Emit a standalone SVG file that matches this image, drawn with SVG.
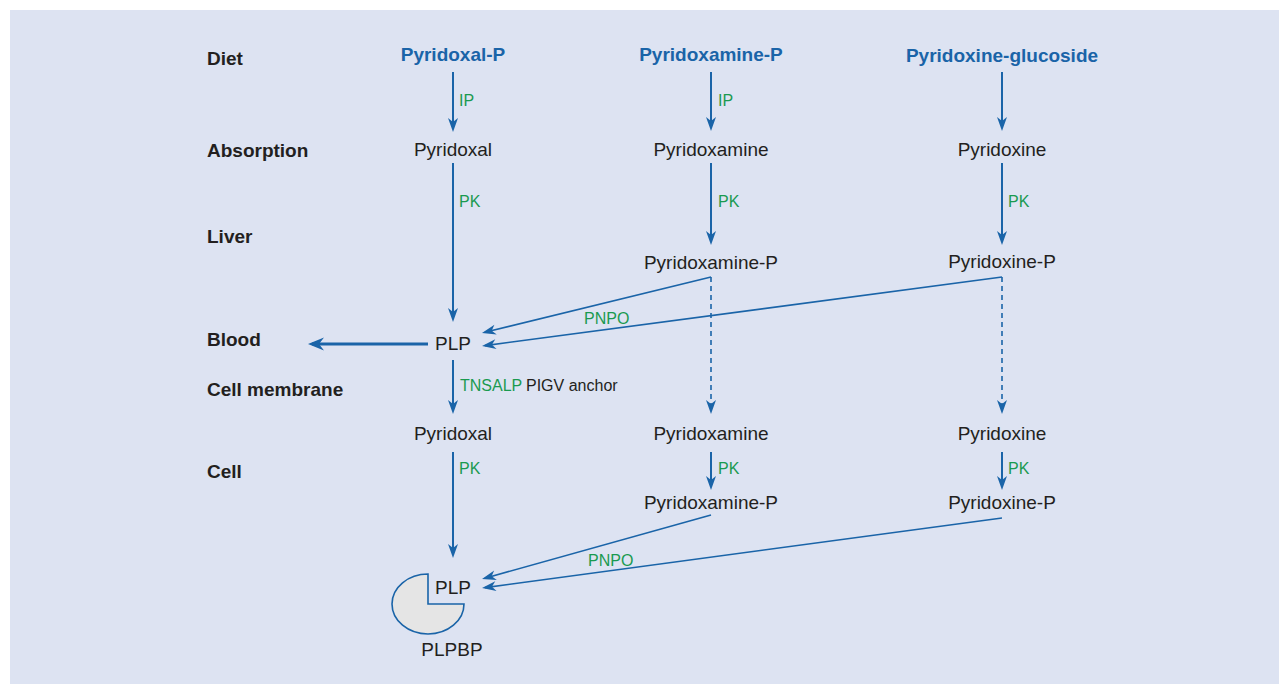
<svg xmlns="http://www.w3.org/2000/svg" width="1279" height="684" viewBox="0 0 1279 684">
  <style>
    .stage { font-family: "Liberation Sans", Arial, sans-serif; font-size: 19px; font-weight: bold; fill: #231f20; }
    .diet { font-family: "Liberation Sans", Arial, sans-serif; font-size: 19px; font-weight: bold; fill: #1a64a8; text-anchor: middle; }
    .mol { font-family: "Liberation Sans", Arial, sans-serif; font-size: 19px; fill: #231f20; text-anchor: middle; }
    .enz { font-family: "Liberation Sans", Arial, sans-serif; font-size: 16px; fill: #1a9a50; }
    .note { font-family: "Liberation Sans", Arial, sans-serif; font-size: 16px; fill: #231f20; }
    .arrow { stroke: #1a64a8; stroke-width: 2; fill: none; marker-end: url(#head); }
    .thin { stroke-width: 1.6; }
    .dash { stroke-dasharray: 5 4; }
  </style>
  <defs>
    <marker id="head" markerUnits="userSpaceOnUse" markerWidth="16" markerHeight="12" refX="-3" refY="0" orient="auto" overflow="visible">
      <path d="M-14,-5 L0,0 L-14,5 L-10,0 Z" fill="#1a64a8"/>
    </marker>
    <marker id="headBig" markerUnits="userSpaceOnUse" markerWidth="18" markerHeight="14" refX="-4" refY="0" orient="auto" overflow="visible">
      <path d="M-16,-6.5 L0,0 L-16,6.5 L-11,0 Z" fill="#1a64a8"/>
    </marker>
  </defs>

  <!-- panel background -->
  <rect x="10" y="10" width="1269" height="674" fill="#dde3f2"/>

  <!-- stage labels -->
  <g id="stages">
    <text class="stage" x="207" y="65">Diet</text>
    <text class="stage" x="207" y="157">Absorption</text>
    <text class="stage" x="207" y="243">Liver</text>
    <text class="stage" x="207" y="346">Blood</text>
    <text class="stage" x="207" y="396">Cell membrane</text>
    <text class="stage" x="207" y="478">Cell</text>
  </g>

  <!-- dietary sources -->
  <g id="diet-pyridoxal-p"><text class="diet" x="453" y="61">Pyridoxal-P</text></g>
  <g id="diet-pyridoxamine-p"><text class="diet" x="711" y="61">Pyridoxamine-P</text></g>
  <g id="diet-pyridoxine-glucoside"><text class="diet" x="1002" y="62">Pyridoxine-glucoside</text></g>

  <!-- absorbed vitamers -->
  <g id="abs-pyridoxal"><text class="mol" x="453" y="156">Pyridoxal</text></g>
  <g id="abs-pyridoxamine"><text class="mol" x="711" y="156">Pyridoxamine</text></g>
  <g id="abs-pyridoxine"><text class="mol" x="1002" y="156">Pyridoxine</text></g>

  <!-- liver phosphates -->
  <g id="liver-pyridoxamine-p"><text class="mol" x="711" y="269">Pyridoxamine-P</text></g>
  <g id="liver-pyridoxine-p"><text class="mol" x="1002" y="268">Pyridoxine-P</text></g>

  <!-- blood PLP -->
  <g id="blood-plp"><text class="mol" x="453" y="350">PLP</text></g>

  <!-- cellular vitamers -->
  <g id="cell-pyridoxal"><text class="mol" x="453" y="440">Pyridoxal</text></g>
  <g id="cell-pyridoxamine"><text class="mol" x="711" y="440">Pyridoxamine</text></g>
  <g id="cell-pyridoxine"><text class="mol" x="1002" y="440">Pyridoxine</text></g>
  <g id="cell-pyridoxamine-p"><text class="mol" x="711" y="509">Pyridoxamine-P</text></g>
  <g id="cell-pyridoxine-p"><text class="mol" x="1002" y="509">Pyridoxine-P</text></g>

  <!-- PLP bound to its binding protein -->
  <g id="plpbp">
    <path d="M428,574 L428,604 L464,604 A36,30 0 1 1 428,574 Z" fill="#e5e5e5" stroke="#1a64a8" stroke-width="1.6"/>
    <text class="mol" x="453" y="594">PLP</text>
    <text class="mol" x="452" y="656">PLPBP</text>
  </g>

  <!-- connectors -->
  <g id="connectors">
    <line class="arrow" x1="453" y1="72" x2="453" y2="129"/>
    <line class="arrow" x1="711" y1="72" x2="711" y2="128"/>
    <line class="arrow" x1="1002" y1="72" x2="1002" y2="128"/>

    <line class="arrow" x1="453" y1="163" x2="453" y2="319"/>
    <line class="arrow" x1="711" y1="163" x2="711" y2="242"/>
    <line class="arrow" x1="1002" y1="163" x2="1002" y2="242"/>

    <line class="arrow thin dash" x1="711" y1="277" x2="711" y2="411"/>
    <line class="arrow thin dash" x1="1002" y1="277" x2="1002" y2="411"/>

    <line class="arrow thin" x1="711" y1="277" x2="484.9" y2="332.3"/>
    <line class="arrow thin" x1="1002" y1="277" x2="485" y2="345.6"/>

    <line x1="428" y1="344" x2="312" y2="344" stroke="#1a64a8" stroke-width="3" marker-end="url(#headBig)"/>

    <line class="arrow" x1="453" y1="360" x2="453" y2="411"/>

    <line class="arrow" x1="453" y1="452" x2="453" y2="555"/>
    <line class="arrow" x1="711" y1="452" x2="711" y2="487"/>
    <line class="arrow" x1="1002" y1="452" x2="1002" y2="487"/>

    <line class="arrow thin" x1="711" y1="515" x2="484.9" y2="578.2"/>
    <line class="arrow thin" x1="1002" y1="518" x2="485" y2="587.6"/>
  </g>

  <!-- enzyme labels -->
  <g id="enzymes">
    <text class="enz" x="459" y="106">IP</text>
    <text class="enz" x="718" y="106">IP</text>
    <text class="enz" x="459" y="207">PK</text>
    <text class="enz" x="718" y="207">PK</text>
    <text class="enz" x="1008" y="207">PK</text>
    <text class="enz" x="584" y="324">PNPO</text>
    <text class="enz" x="460" y="391">TNSALP</text>
    <text class="note" x="526" y="391">PIGV anchor</text>
    <text class="enz" x="459" y="474">PK</text>
    <text class="enz" x="718" y="474">PK</text>
    <text class="enz" x="1008" y="474">PK</text>
    <text class="enz" x="588" y="566">PNPO</text>
  </g>
</svg>
